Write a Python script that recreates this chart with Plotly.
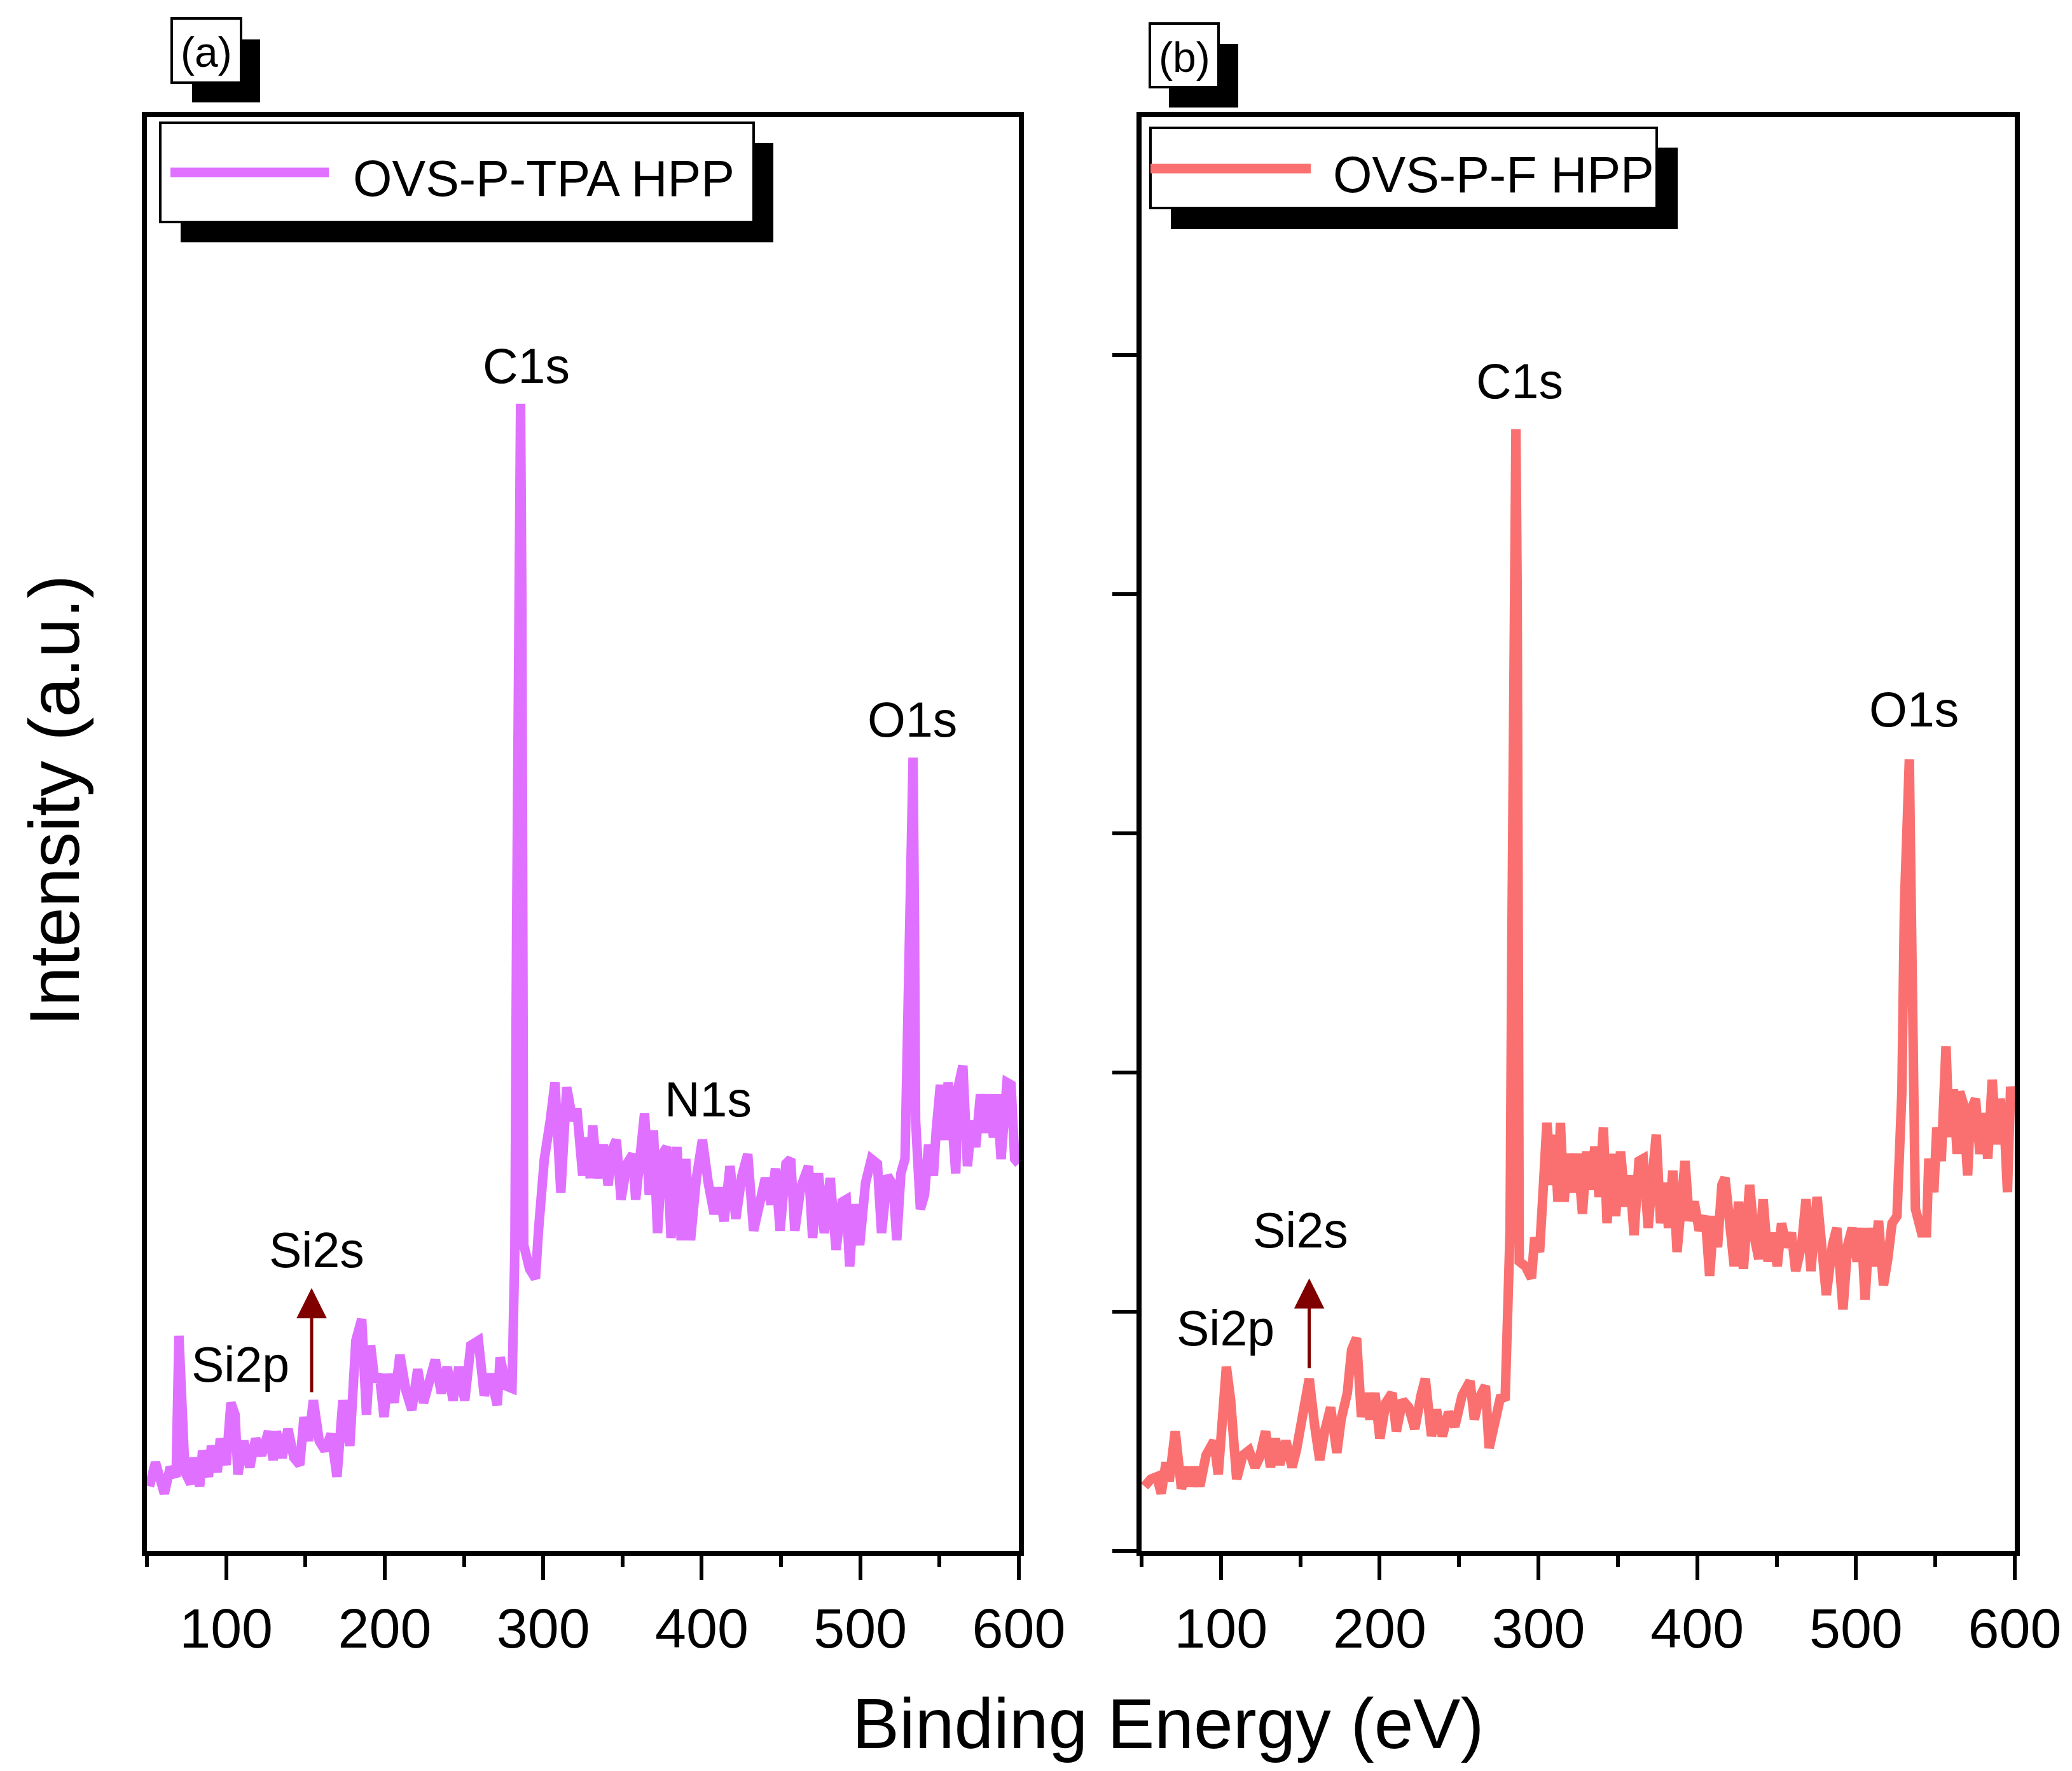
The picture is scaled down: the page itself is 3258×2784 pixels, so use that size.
import plotly.graph_objects as go

W, H = 3258, 2784

# XPS survey spectra (binding energy in eV, intensity in a.u.)
energy_tpa = [
    51.6, 55.4, 61.0, 64.7, 68.4, 70.2, 74.0, 77.7, 79.5, 83.3, 85.1, 88.8, 90.7, 94.4, 96.3,
    100.0, 103.0, 105.6, 107.4, 111.1, 114.9, 118.6, 122.3, 126.7, 129.7, 131.6, 135.3, 139.0,
    142.7, 146.4, 149.1, 152.0, 155.0, 158.7, 162.4, 166.2, 169.9, 173.6, 178.0, 181.8, 185.5,
    188.5, 191.1, 193.7, 196.6, 199.6, 202.2, 205.9, 209.6, 213.4, 217.1, 220.8, 224.5, 228.2,
    231.9, 235.7, 239.4, 243.1, 246.8, 250.5, 254.3, 259.1, 262.8, 266.5, 271.0, 272.8, 276.6,
    280.3, 282.1, 283.2, 284.5, 285.7, 286.5, 287.0, 287.7, 291.4, 295.1, 297.0, 300.7, 304.4,
    307.4, 311.1, 314.8, 318.6, 321.2, 324.9, 326.7, 329.7, 331.2, 334.2, 337.9, 340.9, 343.5,
    346.1, 349.1, 352.8, 356.5, 358.3, 360.9, 363.9, 366.9, 369.5, 372.1, 375.1, 378.0, 380.6,
    384.4, 387.0, 389.9, 392.9, 396.6, 400.4, 404.1, 407.8, 410.4, 414.1, 417.8, 421.5, 425.3,
    429.0, 432.7, 436.4, 440.1, 443.8, 446.5, 449.4, 453.1, 456.1, 458.7, 462.4, 467.3, 469.9,
    473.6, 477.3, 481.0, 484.7, 488.5, 491.1, 493.3, 495.9, 499.6, 503.3, 507.0, 510.8, 513.4,
    517.1, 520.8, 523.0, 525.6, 528.2, 530.0, 531.5, 533.3, 534.2, 534.9, 537.9, 540.5, 543.1,
    546.1, 547.9, 550.5, 553.5, 555.4, 558.0, 560.2, 561.7, 564.7, 567.6, 570.2, 572.8, 575.8,
    578.8, 581.4, 584.0, 586.2, 588.8, 592.5, 595.1, 597.4, 600.0,
]
intensity_tpa = [
    0.27, 0.37, 0.24, 0.35, 0.31, 0.90, 0.33, 0.28, 0.39, 0.27, 0.42, 0.31, 0.44, 0.33, 0.47,
    0.36, 0.62, 0.57, 0.32, 0.46, 0.35, 0.47, 0.40, 0.50, 0.38, 0.50, 0.39, 0.51,
    0.39, 0.36, 0.56, 0.46, 0.63, 0.46, 0.42, 0.49, 0.31, 0.63, 0.44, 0.88, 0.97,
    0.57, 0.86, 0.71, 0.74, 0.56, 0.74, 0.62, 0.82, 0.67, 0.59, 0.76, 0.62, 0.73,
    0.80, 0.66, 0.77, 0.63, 0.77, 0.63, 0.86, 0.88, 0.65, 0.74, 0.61, 0.81, 0.69,
    0.68, 1.26, 2.60, 4.30, 4.80, 4.00, 2.40, 1.28, 1.18, 1.14, 1.34, 1.64, 1.80,
    1.96, 1.50, 1.94, 1.80, 1.85, 1.57, 1.73, 1.56, 1.78, 1.56, 1.70, 1.53, 1.68,
    1.72, 1.47, 1.62, 1.66, 1.47, 1.64, 1.83, 1.49, 1.76, 1.33, 1.66, 1.69, 1.31,
    1.69, 1.30, 1.64, 1.30, 1.56, 1.72, 1.54, 1.41, 1.52, 1.38, 1.61, 1.39, 1.57,
    1.66, 1.34, 1.47, 1.56, 1.45, 1.60, 1.34, 1.62, 1.64, 1.34, 1.52, 1.61, 1.31,
    1.58, 1.33, 1.56, 1.26, 1.46, 1.47, 1.19, 1.45, 1.28, 1.54, 1.64, 1.62, 1.33,
    1.57, 1.53, 1.30, 1.58, 1.64, 2.40, 3.00, 3.32, 2.60, 1.80, 1.43, 1.49, 1.70,
    1.57, 1.76, 1.95, 1.72, 1.96, 1.79, 1.58, 1.94, 2.03, 1.61, 1.80, 1.69, 1.91,
    1.75, 1.91, 1.73, 1.91, 1.64, 1.96, 1.95, 1.64, 1.62,
]

energy_f = [
    51.9, 55.8, 59.6, 62.4, 65.4, 67.4, 71.2, 75.1, 79.0, 80.9, 84.0, 86.7, 90.6, 95.6, 98.3,
    103.4, 106.1, 109.9, 113.8, 117.7, 121.5, 124.3, 128.1, 131.2, 134.3, 137.0, 140.9, 144.8,
    147.5, 150.6, 155.6, 159.1, 162.2, 165.3, 169.1, 173.0, 175.7, 179.6, 182.3, 185.4, 188.5,
    191.2, 193.9, 197.0, 200.1, 203.9, 207.8, 210.5, 214.4, 218.3, 222.1, 226.0, 228.7, 232.6,
    235.7, 239.5, 243.4, 247.3, 251.9, 256.9, 259.6, 262.7, 266.6, 268.9, 272.4, 276.3, 279.0,
    282.1, 283.3, 284.6, 285.8, 286.6, 287.2, 287.9, 291.8, 295.6, 297.6, 300.7, 303.4, 305.3,
    308.4, 309.9, 312.3, 313.8, 316.1, 318.8, 321.5, 324.6, 327.7, 330.4, 333.1, 335.5, 338.2,
    340.9, 343.2, 345.9, 348.6, 351.7, 354.8, 357.5, 360.2, 363.3, 366.0, 369.1, 371.8, 374.2,
    376.9, 379.6, 381.9, 384.6, 387.3, 389.6, 392.3, 395.0, 398.1, 401.2, 405.1, 407.8, 410.5,
    412.8, 415.5, 417.5, 420.6, 423.3, 426.0, 429.1, 433.0, 436.0, 438.8, 441.5, 444.6, 447.7,
    450.4, 453.1, 456.2, 459.3, 462.0, 465.8, 468.5, 471.6, 475.5, 478.6, 481.3, 485.2, 487.9,
    491.8, 494.8, 497.6, 500.7, 503.4, 505.7, 508.4, 511.1, 514.2, 517.3, 520.0, 522.7, 525.8,
    528.9, 530.5, 532.0, 533.6, 534.6, 535.6, 537.4, 541.3, 544.4, 545.9, 549.0, 550.9, 553.7,
    556.7, 558.7, 561.4, 563.7, 565.3, 567.6, 570.3, 572.2, 575.3, 578.0, 580.7, 583.0, 585.8,
    588.5, 590.8, 593.5, 595.4, 597.4, 600.0,
]
intensity_f = [
    0.27, 0.30, 0.31, 0.24, 0.37, 0.29, 0.50, 0.26, 0.35, 0.27, 0.35, 0.27, 0.40, 0.46, 0.32,
    0.77, 0.63, 0.30, 0.40, 0.42, 0.35, 0.39, 0.50, 0.35, 0.47, 0.36, 0.46, 0.35,
    0.42, 0.56, 0.72, 0.52, 0.38, 0.50, 0.60, 0.41, 0.55, 0.66, 0.84, 0.89, 0.56,
    0.66, 0.55, 0.66, 0.47, 0.62, 0.66, 0.50, 0.63, 0.60, 0.51, 0.65, 0.72, 0.48,
    0.59, 0.48, 0.58, 0.52, 0.65, 0.71, 0.55, 0.64, 0.69, 0.43, 0.52, 0.65, 0.63,
    1.34, 2.60, 4.20, 4.69, 4.00, 2.30, 1.21, 1.19, 1.14, 1.31, 1.25, 1.56, 1.79,
    1.53, 1.74, 1.46, 1.79, 1.46, 1.66, 1.50, 1.66, 1.41, 1.67, 1.51, 1.69, 1.48,
    1.77, 1.37, 1.66, 1.40, 1.67, 1.44, 1.57, 1.32, 1.63, 1.64, 1.35, 1.57, 1.74,
    1.37, 1.54, 1.35, 1.59, 1.25, 1.48, 1.63, 1.38, 1.46, 1.34, 1.40, 1.15, 1.40,
    1.27, 1.53, 1.56, 1.31, 1.19, 1.46, 1.18, 1.53, 1.31, 1.22, 1.47, 1.21, 1.33,
    1.19, 1.37, 1.27, 1.33, 1.17, 1.28, 1.47, 1.17, 1.48, 1.30, 1.07, 1.28, 1.35,
    1.01, 1.28, 1.35, 1.21, 1.35, 1.05, 1.35, 1.19, 1.38, 1.11, 1.22, 1.37, 1.40,
    1.92, 2.70, 3.20, 3.31, 2.80, 2.00, 1.43, 1.33, 1.33, 1.64, 1.50, 1.77, 1.63,
    2.11, 1.73, 1.93, 1.66, 1.92, 1.87, 1.57, 1.84, 1.89, 1.66, 1.83, 1.64, 1.97,
    1.70, 1.89, 1.77, 1.50, 1.94, 1.85,
]

series_names = ["OVS-P-TPA HPP", "OVS-P-F HPP"]
panel_labels = ["(a)", "(b)"]

# peak labels: (text, energy, intensity) per panel
peaks_tpa = [("C1s", 289.3, 4.96), ("O1s", 533.0, 3.48), ("N1s", 404.0, 1.89),
             ("Si2s", 157.0, 1.26), ("Si2p", 108.8, 0.78)]
peaks_f = [("C1s", 288.0, 4.89), ("O1s", 536.5, 3.52),
           ("Si2s", 150.2, 1.34), ("Si2p", 102.9, 0.93)]
# Si2s arrows: (energy, tail intensity, tip intensity)
arrow_tpa = (153.9, 0.66, 1.10)
arrow_f = (155.6, 0.76, 1.14)

COLOR_TPA = "#E070FF"
COLOR_F = "#FA7070"
ARROW_COLOR = "#800000"
FONT = "Arial, Liberation Sans, sans-serif"


def fx(px):
    return px / W


def fy(py):
    return 1 - py / H


def box(x0, y0, x1, y1, fill, line_w=0):
    return dict(type="rect", xref="paper", yref="paper", layer="above",
                x0=fx(x0), x1=fx(x1), y0=fy(y1), y1=fy(y0),
                fillcolor=fill, line=dict(color="black", width=line_w))


fig = go.Figure()
fig.add_trace(go.Scatter(x=energy_tpa, y=intensity_tpa, mode="lines", name=series_names[0],
                         line=dict(color=COLOR_TPA, width=15), xaxis="x", yaxis="y"))
fig.add_trace(go.Scatter(x=energy_f, y=intensity_f, mode="lines", name=series_names[1],
                         line=dict(color=COLOR_F, width=15), xaxis="x2", yaxis="y2"))

xaxis_style = dict(
    range=[50, 600], tick0=0, dtick=100, ticks="outside", ticklen=38, tickwidth=6,
    tickcolor="black", showline=True, linewidth=8, linecolor="black", mirror=True,
    showgrid=False, zeroline=False, ticklabelstandoff=0, automargin=False,
    tickfont=dict(family=FONT, size=88, color="black"),
    minor=dict(dtick=50, tick0=0, ticks="outside", ticklen=17, tickwidth=6, tickcolor="black"),
)
y_dom = [fy(2430), fy(176)]

fig.update_layout(
    width=W, height=H, plot_bgcolor="white", paper_bgcolor="white", showlegend=False,
    margin=dict(l=0, r=0, t=0, b=0, autoexpand=False),
    xaxis=dict(domain=[fx(223), fx(1594)], anchor="y", **xaxis_style),
    xaxis2=dict(domain=[fx(1787), fx(3160)], anchor="y2", **xaxis_style),
    yaxis=dict(domain=y_dom, anchor="x", range=[0, 6], showticklabels=False, ticks="",
               showline=True, linewidth=8, linecolor="black", mirror=True,
               showgrid=False, zeroline=False, automargin=False),
    yaxis2=dict(domain=y_dom, anchor="x2", range=[0, 5.995], dtick=1, showticklabels=False,
                ticks="outside", ticklen=38, tickwidth=6, tickcolor="black",
                showline=True, linewidth=8, linecolor="black", mirror=True,
                showgrid=False, zeroline=False, automargin=False),
)

shapes = []
annotations = []

# legends with drop shadows (drawn by hand, plotly legends have no shadow)
legends = [
    dict(box=(244, 185, 1177, 341), shadow=(276, 217, 1208, 373), line=(260, 509, 263),
         text_x=545, text_y=273, color=COLOR_TPA, name=series_names[0]),
    dict(box=(1801, 193, 2597, 319), shadow=(1833, 224, 2630, 352), line=(1801, 2053, 257),
         text_x=2086, text_y=266, color=COLOR_F, name=series_names[1]),
]
for lg in legends:
    shapes.append(box(*lg["shadow"], "black"))
    shapes.append(box(*lg["box"], "white", 4))
    lx0, lx1, ly = lg["line"]
    shapes.append(dict(type="line", xref="paper", yref="paper", layer="above",
                       x0=fx(lx0), x1=fx(lx1), y0=fy(ly), y1=fy(ly),
                       line=dict(color=lg["color"], width=15)))
    annotations.append(dict(xref="paper", yref="paper", x=fx(lg["text_x"]), y=fy(lg["text_y"]),
                            xanchor="left", yanchor="middle", text=lg["name"], showarrow=False,
                            font=dict(family=FONT, size=79, color="black")))

# panel tags (a), (b)
tags = [
    dict(box=(262, 21, 371, 122), shadow=(294, 54, 401, 153), cx=316, cy=74),
    dict(box=(1800, 29, 1908, 129), shadow=(1830, 61, 1939, 161), cx=1854, cy=82),
]
for tag, label in zip(tags, panel_labels):
    shapes.append(box(*tag["shadow"], "black"))
    shapes.append(box(*tag["box"], "white", 4))
    annotations.append(dict(xref="paper", yref="paper", x=fx(tag["cx"]), y=fy(tag["cy"]),
                            xanchor="center", yanchor="middle", text=label, showarrow=False,
                            font=dict(family=FONT, size=66, color="black")))

for peaks, xr, yr in [(peaks_tpa, "x", "y"), (peaks_f, "x2", "y2")]:
    for text, e, v in peaks:
        annotations.append(dict(xref=xr, yref=yr, x=e, y=v, text=text, showarrow=False,
                                xanchor="center", yanchor="middle",
                                font=dict(family=FONT, size=77, color="black")))

for (e, v0, v1), xr, yr in [(arrow_tpa, "x", "y"), (arrow_f, "x2", "y2")]:
    annotations.append(dict(xref=xr, yref=yr, axref=xr, ayref=yr, x=e, y=v1, ax=e, ay=v0,
                            text="", showarrow=True, arrowhead=2, arrowsize=1.9,
                            arrowwidth=5, arrowcolor=ARROW_COLOR))

# shared axis titles
annotations.append(dict(xref="paper", yref="paper", x=fx(1829), y=fy(2702), text="Binding Energy (eV)",
                        showarrow=False, xanchor="center", yanchor="middle",
                        font=dict(family=FONT, size=111, color="black")))
annotations.append(dict(xref="paper", yref="paper", x=fx(77), y=fy(1250), text="Intensity (a.u.)",
                        showarrow=False, textangle=-90, xanchor="center", yanchor="middle",
                        font=dict(family=FONT, size=112, color="black")))

fig.update_layout(shapes=shapes, annotations=annotations)

fig.write_html("out.html")
